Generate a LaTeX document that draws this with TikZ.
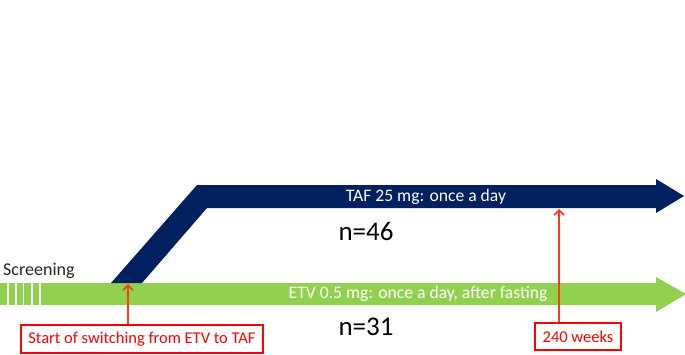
\documentclass[tikz,border=0pt]{standalone}
\usepackage{fontspec}
\setmainfont{Carlito}
\usepackage{xcolor}
\usetikzlibrary{arrows.meta, positioning}

\definecolor{tafnavy}{HTML}{002060}
\definecolor{etvgreen}{HTML}{92D050}
\definecolor{callred}{HTML}{FF0000}
\definecolor{arrowred}{HTML}{FF3B14}

\begin{document}
\begin{tikzpicture}[
    x=1pt, y=-1pt,
    bar_text/.style={text=white, font=\fontsize{17.6}{20}\selectfont, inner sep=0pt},
    count_text/.style={font=\fontsize{27}{32}\selectfont, inner sep=0pt},
    call_box/.style={rectangle, draw=callred, line width=1.6pt, text=callred, font=\fontsize{16.5}{18}\selectfont, inner sep=0pt},
    call_arrow/.style={-{Straight Barb[length=5pt, width=10pt]}, draw=arrowred, line width=1.6pt}
]
\useasboundingbox (0,0) rectangle (685,354);

% ETV arm
\fill[etvgreen] (41,283) -- (656,283) -- (656,277) -- (686,294) -- (656,312) -- (656,305) -- (41,305) -- cycle;
\foreach \xa/\xb in {0/7.3, 9/15, 16.5/22.7, 24.3/31, 32.7/39.3}
  \fill[etvgreen] (\xa,283) rectangle (\xb,305);

% TAF arm
\fill[tafnavy] (111,283) -- (197,185) -- (656,185) -- (656,179) -- (684,196) -- (656,213) -- (656,208) -- (207,208) -- (142,283) -- cycle;

\node[bar_text] (taf) at (426,197) {TAF 25 mg: once a day};
\node[bar_text] (etv) at (418,294) {ETV 0.5 mg: once a day, after fasting};
\node[count_text] (n_taf) at (366,231) {n=46};
\node[count_text] (n_etv) at (366,327) {n=31};
\node[font=\fontsize{18}{20}\selectfont, text=black!85, anchor=base west, inner sep=0pt] (screen) at (3,275) {Screening};

\node[call_box, minimum width=242pt, minimum height=28pt] (start_box) at (142,339) {Start of switching from ETV to TAF};
\node[call_box, minimum width=86pt, minimum height=27pt] (week_box) at (578,336.5) {240 weeks};

\coordinate (start_tip) at (128,284);
\coordinate (week_tip) at (559,209);

\draw[call_arrow] (start_tip |- start_box.north) -- (start_tip);
\draw[call_arrow] (week_tip |- week_box.north) -- (week_tip);
\end{tikzpicture}
\end{document}
